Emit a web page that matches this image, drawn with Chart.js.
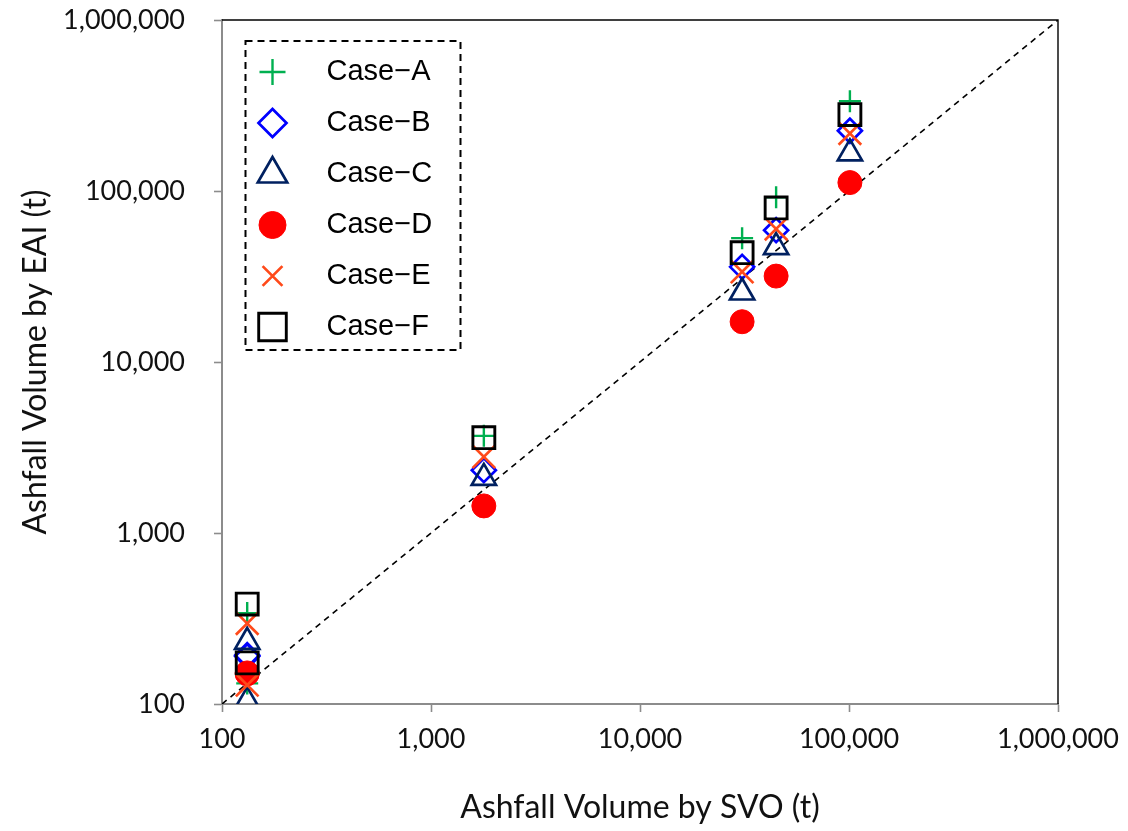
<!DOCTYPE html>
<html>
<head>
<meta charset="utf-8">
<script src="https://cdn.jsdelivr.net/npm/chart.js@4"></script>
<style>
  html, body { margin: 0; padding: 0; background: #fff; }
  canvas { display: block; }
</style>
</head>
<body>
<canvas id="chart" width="1128" height="831"></canvas>
<script>
// Ashfall volume estimated by SVO (x) against EAI (y), six calculation cases
const svoVolume = [132, 132, 1790, 30800, 44800, 101000];
const caseA = [340, 132, 3700, 53000, 92000, 335000];
const caseB = [193, 190, 2330, 36000, 59000, 225000];
const caseC = [231, 104, 2100, 25500, 47000, 166000];
const caseD = [152, 150, 1440, 17200, 31800, 112000];
const caseE = [296, 129, 2790, 33700, 60000, 217000];
const caseF = [384, 174, 3610, 43600, 79600, 280000];
const caseLabels = ['Case\u2212A', 'Case\u2212B', 'Case\u2212C', 'Case\u2212D', 'Case\u2212E', 'Case\u2212F'];
const axisTicks = [100, 1000, 10000, 100000, 1000000];
const oneToOne = [100, 1000000];
const xTitle = 'Ashfall Volume by SVO (t)';
const yTitle = 'Ashfall Volume by EAI (t)';

const caseValues = [caseA, caseB, caseC, caseD, caseE, caseF];

// marker look for each case (plot radius / legend radius)
const markerStyles = [
  { pointStyle: 'cross',    color: '#00B050', radius: 11,   lineWidth: 2.4, filled: false, legendRadius: 13 },
  { pointStyle: 'rectRot',  color: '#0000FF', radius: 12,   lineWidth: 2.7, filled: false, legendRadius: 14 },
  { pointStyle: 'triangle', color: '#002060', radius: 14,   lineWidth: 2.7, filled: false, legendRadius: 17 },
  { pointStyle: 'circle',   color: '#FF0000', radius: 12,   lineWidth: 1,   filled: true,  legendRadius: 13.5 },
  { pointStyle: 'crossRot', color: '#FF4A1A', radius: 16,   lineWidth: 2.7, filled: false, legendRadius: 14 },
  { pointStyle: 'rect',     color: '#000000', radius: 15.5, lineWidth: 2.9, filled: false, legendRadius: 19.5 }
];

const toPoints = (ys) => svoVolume.map((x, i) => ({ x: x, y: ys[i] }));

const datasets = caseValues.map((ys, i) => {
  const s = markerStyles[i];
  return {
    label: caseLabels[i],
    data: toPoints(ys),
    showLine: false,
    pointStyle: s.pointStyle,
    pointRadius: s.radius,
    pointHoverRadius: s.radius,
    pointBorderColor: s.color,
    pointBackgroundColor: s.filled ? s.color : 'rgba(0,0,0,0)',
    pointBorderWidth: s.lineWidth,
    pointHoverBorderWidth: s.lineWidth,
    order: caseValues.length - 1 - i
  };
});

// 1:1 reference line
datasets.push({
  label: '1:1',
  data: oneToOne.map(v => ({ x: v, y: v })),
  showLine: true,
  borderColor: '#000',
  borderWidth: 1.6,
  borderDash: [6, 5],
  pointRadius: 0,
  pointHoverRadius: 0,
  fill: false,
  order: 20
});

const formatTick = (v) => Number(v).toLocaleString('en-US');
const useDecadeTicks = (scale) => { scale.ticks = axisTicks.map(v => ({ value: v })); };

// black top and right edges of the plot area
const frameEdges = {
  id: 'frameEdges',
  beforeDatasetsDraw(chart) {
    const { ctx, chartArea: a } = chart;
    ctx.save();
    ctx.strokeStyle = '#000';
    ctx.lineWidth = 1.4;
    ctx.beginPath();
    ctx.moveTo(a.left, a.top);
    ctx.lineTo(a.right, a.top);
    ctx.lineTo(a.right, a.bottom);
    ctx.stroke();
    ctx.restore();
  }
};

// legend box inside the plot with a dashed outline
const boxedLegend = {
  id: 'boxedLegend',
  afterDraw(chart, args, opts) {
    const { ctx } = chart;
    ctx.save();
    ctx.fillStyle = '#fff';
    ctx.fillRect(opts.left, opts.top, opts.width, opts.height);
    ctx.setLineDash([7, 5]);
    ctx.strokeStyle = '#000';
    ctx.lineWidth = 2;
    ctx.strokeRect(opts.left, opts.top, opts.width, opts.height);
    ctx.setLineDash([]);
    caseLabels.forEach((label, i) => {
      const s = markerStyles[i];
      const y = opts.top + opts.firstRow + i * opts.rowGap;
      ctx.strokeStyle = s.color;
      ctx.fillStyle = s.filled ? s.color : 'rgba(0,0,0,0)';
      ctx.lineWidth = s.lineWidth;
      Chart.helpers.drawPoint(ctx, {
        pointStyle: s.pointStyle,
        radius: s.legendRadius,
        borderWidth: s.lineWidth,
        rotation: 0
      }, opts.left + opts.markerX, y);
      ctx.fillStyle = '#000';
      ctx.font = opts.font;
      ctx.textAlign = 'left';
      ctx.textBaseline = 'middle';
      ctx.fillText(label, opts.left + opts.textX, y);
    });
    ctx.restore();
  }
};

Chart.defaults.font.family = 'Lato, "Open Sans", sans-serif';

new Chart(document.getElementById('chart'), {
  type: 'scatter',
  data: { datasets: datasets },
  plugins: [frameEdges, boxedLegend],
  options: {
    responsive: false,
    animation: false,
    layout: { padding: { top: 20, right: 70, left: 0, bottom: 0 } },
    plugins: {
      legend: { display: false },
      tooltip: { enabled: false },
      boxedLegend: {
        left: 245.5, top: 41, width: 215, height: 309,
        firstRow: 31, rowGap: 51, markerX: 27, textX: 81,
        font: '29px "Liberation Sans", Arial, sans-serif'
      }
    },
    scales: {
      x: {
        type: 'logarithmic',
        position: 'bottom',
        min: 100,
        max: 1000000,
        afterBuildTicks: useDecadeTicks,
        afterFit: (s) => { s.height = 127; s.paddingLeft = 0; s.paddingRight = 0; },
        grid: { display: true, drawOnChartArea: false, drawTicks: true, tickLength: 8, tickWidth: 1.6, tickColor: '#8c8c8c' },
        border: { display: true, color: '#8c8c8c', width: 2 },
        ticks: { padding: 11, autoSkip: false, maxRotation: 0, color: '#111', font: { size: 27 }, callback: formatTick },
        title: { display: true, text: xTitle, color: '#111', font: { size: 32 }, padding: { top: 0, bottom: 4 } }
      },
      y: {
        type: 'logarithmic',
        position: 'left',
        min: 100,
        max: 1000000,
        afterBuildTicks: useDecadeTicks,
        afterFit: (s) => { s.width = 222; s.paddingTop = 0; s.paddingBottom = 0; },
        grid: { display: true, drawOnChartArea: false, drawTicks: true, tickLength: 8, tickWidth: 1.6, tickColor: '#8c8c8c' },
        border: { display: true, color: '#8c8c8c', width: 2 },
        ticks: { padding: 29, autoSkip: false, color: '#111', font: { size: 27 }, callback: formatTick },
        title: { display: true, text: yTitle, color: '#111', font: { size: 32 }, padding: { top: 16, bottom: 0 } }
      }
    }
  }
});
</script>
</body>
</html>
